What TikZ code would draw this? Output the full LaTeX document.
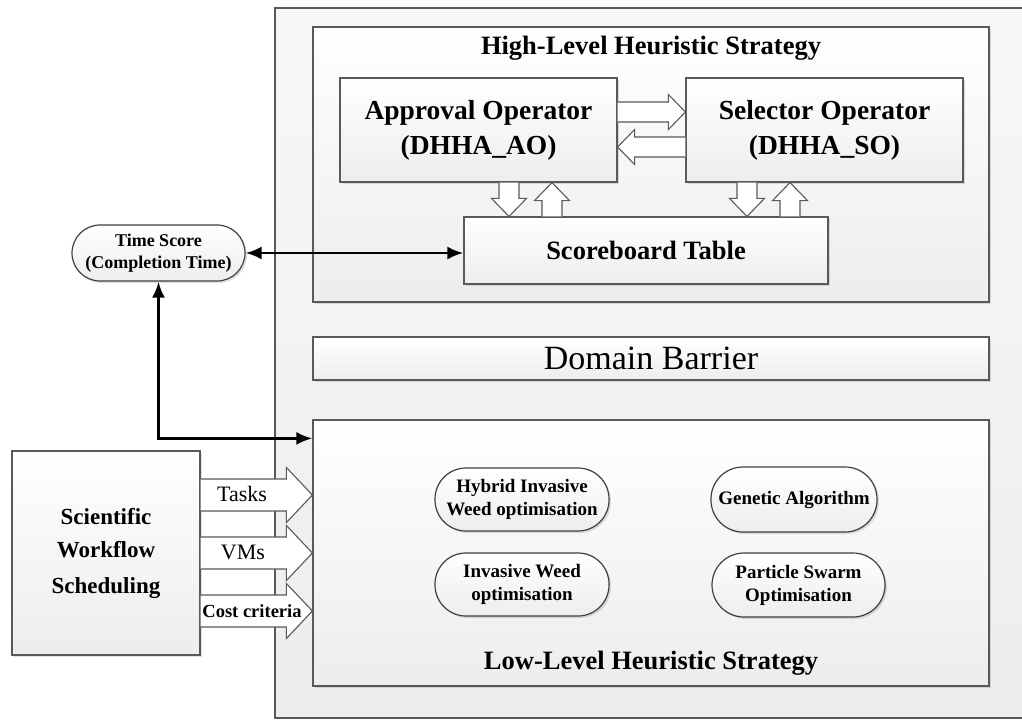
\documentclass[tikz,border=0pt]{standalone}
\usepackage{fontspec}
\setmainfont{Liberation Serif}
\setsansfont{Liberation Sans}
\usetikzlibrary{calc,shadows,arrows.meta}
\definecolor{boxline}{HTML}{595959}
\definecolor{boxbot}{HTML}{EDEDED}
\newcommand{\fsz}[2]{\fontsize{#1}{#2}\selectfont}
% block arrows: #1 base, #2 tip, #3 half shaft, #4 half head, #5 head length
\newcommand{\barR}[5]{\path[barrow] let \p1=(#1), \p2=(#2) in (\x1,\y2+#3) -- (\x2-#5,\y2+#3) -- (\x2-#5,\y2+#4) -- (\x2,\y2) -- (\x2-#5,\y2-#4) -- (\x2-#5,\y2-#3) -- (\x1,\y2-#3);}
\newcommand{\barL}[5]{\path[barrow] let \p1=(#1), \p2=(#2) in (\x1,\y2+#3) -- (\x2+#5,\y2+#3) -- (\x2+#5,\y2+#4) -- (\x2,\y2) -- (\x2+#5,\y2-#4) -- (\x2+#5,\y2-#3) -- (\x1,\y2-#3);}
\newcommand{\barD}[5]{\path[barrow] let \p1=(#1), \p2=(#2) in (\x2-#3,\y1) -- (\x2-#3,\y2+#5) -- (\x2-#4,\y2+#5) -- (\x2,\y2) -- (\x2+#4,\y2+#5) -- (\x2+#3,\y2+#5) -- (\x2+#3,\y1);}
\newcommand{\barU}[5]{\path[barrow] let \p1=(#1), \p2=(#2) in (\x2-#3,\y1) -- (\x2-#3,\y2-#5) -- (\x2-#4,\y2-#5) -- (\x2,\y2) -- (\x2+#4,\y2-#5) -- (\x2+#3,\y2-#5) -- (\x2+#3,\y1);}
\tikzset{
  panel/.style={draw=boxline, line width=1.2pt, top color=white, bottom color=boxbot,
    inner sep=0pt, align=center,
    drop shadow={shadow xshift=2pt, shadow yshift=-2pt, fill=black, opacity=0.12}},
  outerbox/.style={draw=boxline, line width=1.2pt, top color=black!3, bottom color=black!7, inner sep=0pt},
  pill/.style={panel, draw=black!75, rounded corners=#1},
  barrow/.style={draw=boxline, line width=1.1pt, fill=white},
  link/.style={line width=2.8pt, black, {Latex[length=16pt,width=13pt]}-{Latex[length=16pt,width=13pt]}},
  bigtitle/.style={font=\bfseries\fsz{26.5}{30}},
}
\begin{document}
\begin{tikzpicture}[x=1pt,y=-1pt]
\useasboundingbox (0,0) rectangle (1022,720);
\clip (0,0) rectangle (1022,720);

% outer container
\node[outerbox, minimum width=765pt, minimum height=710pt] (outer) at (657.5,363) {};

% high level
\node[panel, minimum width=676pt, minimum height=275pt] (hl) at (651,164.5) {};
\node[bigtitle] (hlt) at (651,48) {High-Level Heuristic Strategy};
\node[panel, minimum width=277pt, minimum height=104pt, font=\bfseries\fsz{27.5}{35}] (ao) at (478.5,130) {Approval Operator\\(DHHA\_AO)};
\node[panel, minimum width=277pt, minimum height=104pt, font=\bfseries\fsz{27.5}{35}] (so) at (824.5,130) {Selector Operator\\(DHHA\_SO)};
\node[panel, minimum width=364pt, minimum height=67pt, font=\bfseries\fsz{26.5}{30}] (sb) at (646,250.5) {Scoreboard Table};

% time score
\node[pill=28pt, minimum width=173pt, minimum height=56pt, font=\bfseries\fsz{18}{22}] (ts) at (158.5,253) {Time Score\\(Completion Time)};

% domain barrier
\node[panel, minimum width=676pt, minimum height=43pt, font=\fsz{34}{38}] (db) at (651,358.5) {Domain Barrier};

% low level
\node[panel, minimum width=676pt, minimum height=266pt] (ll) at (651,553) {};
\node[bigtitle] (llt) at (651,663) {Low-Level Heuristic Strategy};
\node[pill=31pt, minimum width=174pt, minimum height=63pt, font=\bfseries\fsz{19}{23}] (hiwo) at (522,499.5) {Hybrid Invasive\\Weed optimisation};
\node[pill=32pt, minimum width=166pt, minimum height=65pt, font=\bfseries\fsz{19}{23}] (ga) at (794,499.5) {Genetic Algorithm};
\node[pill=31pt, minimum width=174pt, minimum height=63pt, font=\bfseries\fsz{19}{23}] (iwo) at (522,584.5) {Invasive Weed\\optimisation};
\node[pill=32pt, minimum width=173pt, minimum height=64pt, font=\bfseries\fsz{19}{23}] (pso) at (798.5,585) {Particle Swarm\\Optimisation};

% scientific workflow scheduling
\node[panel, minimum width=188pt, minimum height=204pt, font=\bfseries\fsz{23}{32}] (sws) at (106,553) {\raisebox{6pt}{\begin{tabular}{@{}c@{}}Scientific\\[1pt]Workflow\\[4pt]Scheduling\end{tabular}}};

% block arrows between operators
\coordinate (r1) at ($(ao.east)+(0,-18)$);
\barR{r1}{so.west |- r1}{10pt}{17.5pt}{17pt}
\coordinate (l1) at ($(so.west)+(0,17)$);
\barL{l1}{ao.east |- l1}{10pt}{17.5pt}{17pt}

% block arrows to / from scoreboard
\coordinate (d1) at ($(ao.south)+(30.5,0)$);
\barD{d1}{d1 |- sb.north}{10pt}{17.5pt}{18pt}
\coordinate (u1) at ($(ao.south)+(73.5,0)$);
\barU{u1 |- sb.north}{u1}{10pt}{17.5pt}{18pt}
\coordinate (d2) at ($(so.south)+(-77.5,0)$);
\barD{d2}{d2 |- sb.north}{10pt}{17.5pt}{18pt}
\coordinate (u2) at ($(so.south)+(-34.5,0)$);
\barU{u2 |- sb.north}{u2}{10pt}{17.5pt}{18pt}

% input arrows
\coordinate (t1) at ($(ll.west)+(0,-58)$);
\coordinate (t2) at (ll.west);
\coordinate (t3) at ($(ll.west)+(0,58)$);
\barR{sws.east}{t1}{16pt}{27.5pt}{26pt}
\barR{sws.east}{t2}{16pt}{27.5pt}{26pt}
\barR{sws.east}{t3}{16pt}{27.5pt}{26pt}
\node[font=\fsz{22}{24}] (tasks) at (242,494) {Tasks};
\node[font=\fsz{22}{24}] (vms) at (243,552) {VMs};
\node[font=\bfseries\fsz{18.5}{20}, fill=white, inner sep=1pt] (cost) at (252,611) {Cost criteria};

% black connectors
\draw[link] (ts.east) -- (ts.east -| sb.west);
\coordinate (ej) at ($(ll.north west)+(0,19)$);
\draw[link] (ts.south) |- (ej);
\end{tikzpicture}
\end{document}
